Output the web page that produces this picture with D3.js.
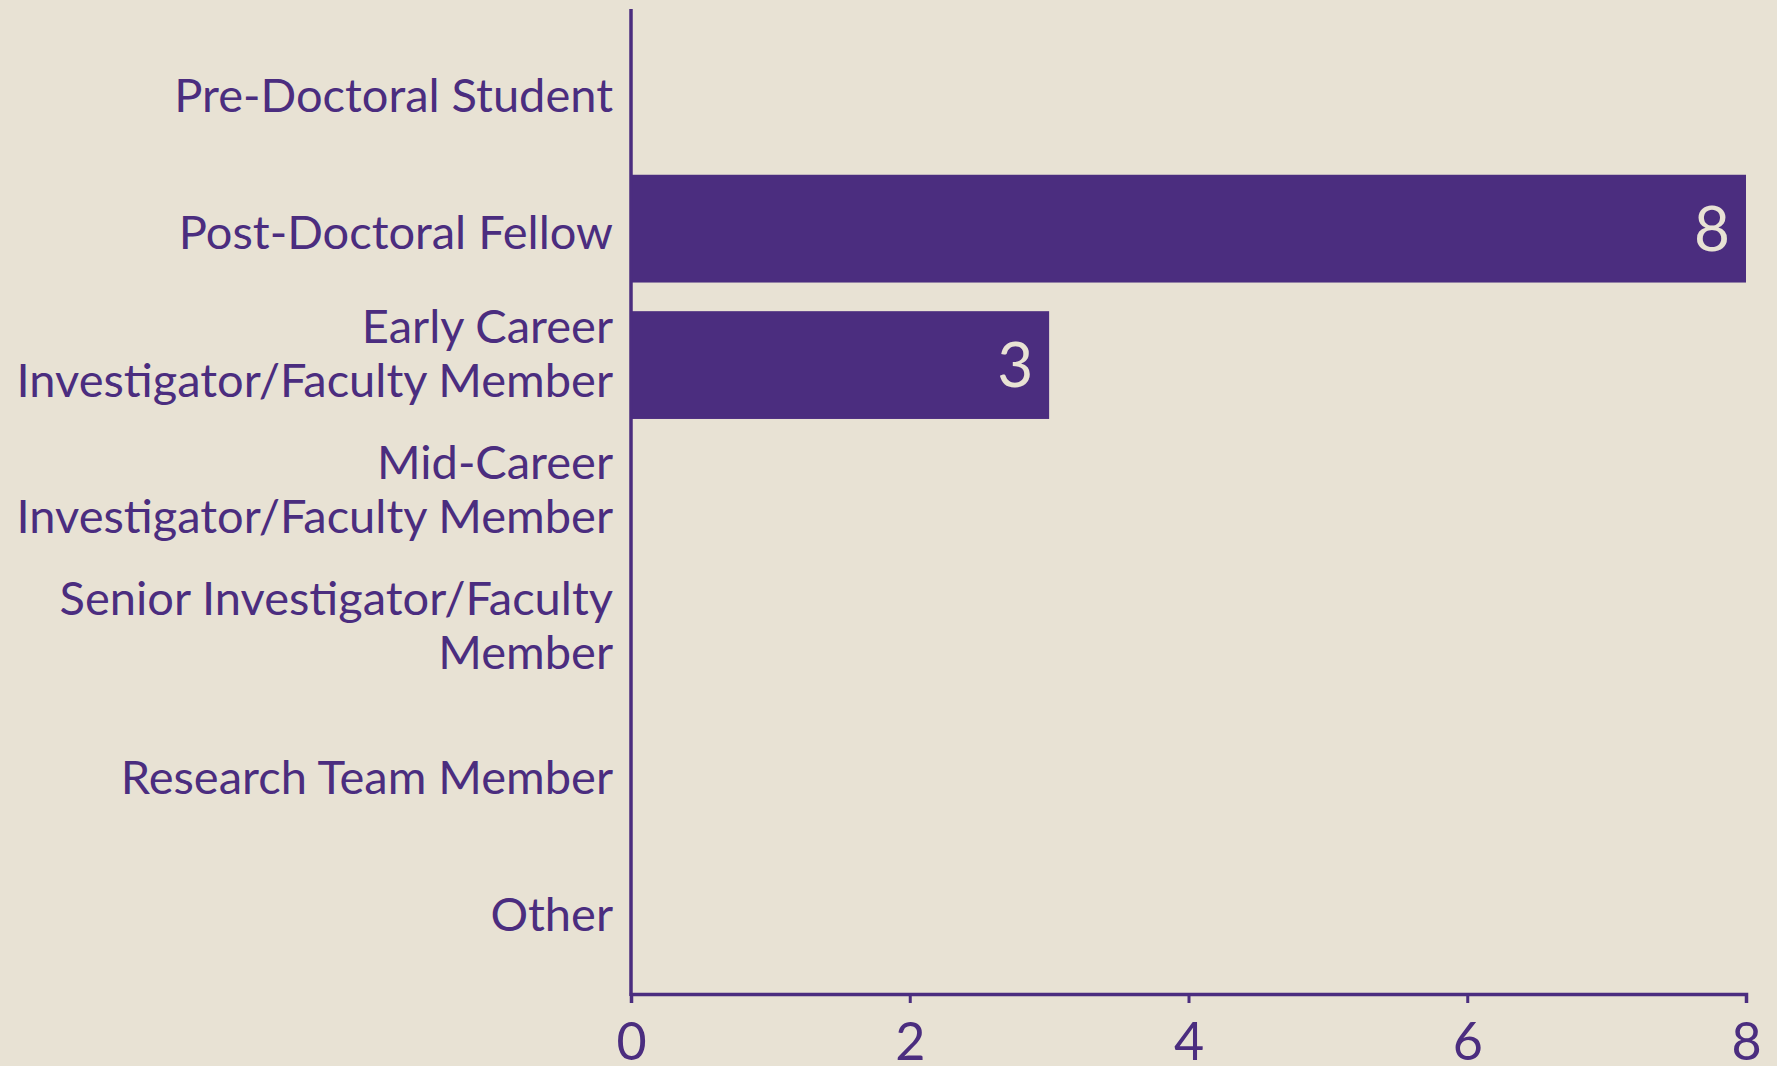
<html>
    <head>
        <title>career stage</title>
        <meta charset="UTF-8">
        <script src="https://d3js.org/d3.v7.min.js"></script>
        <style>
            body { margin: 0; background: #e8e2d4; }
        </style>
    </head>
    <body>
        <div id="chart"></div>
    </body>
    <script>
    // data
    var categories = [
        "Pre-Doctoral Student",
        "Post-Doctoral Fellow",
        "Early Career Investigator/Faculty Member",
        "Mid-Career Investigator/Faculty Member",
        "Senior Investigator/Faculty Member",
        "Research Team Member",
        "Other"
    ];
    var counts = [0, 8, 3, 0, 0, 0, 0];
    var xTicks = [0, 2, 4, 6, 8];

    var purple = "#4b2d7f",
        cream = "#e8e2d4";

    // set the dimensions and margins of the graph
    var W = 1777, H = 1066;
    var margin = {top: 9, right: 31, bottom: 72, left: 631},
        width = W - margin.left - margin.right,
        height = H - margin.top - margin.bottom;

    var svg = d3.select("#chart")
        .append("svg")
            .attr("width", W)
            .attr("height", H)
            .style("display", "block")
            .style("background", cream)
        .append("g")
            .attr("transform", "translate(" + margin.left + "," + margin.top + ")");

    var x = d3.scaleLinear()
        .domain([0, 8])
        .range([0, width]);

    var y = d3.scaleBand()
        .domain(categories)
        .range([0, height])
        .paddingInner(0.21)
        .paddingOuter(0.215);

    // bars
    svg.append("g")
        .selectAll("rect")
        .data(categories)
        .enter()
        .append("rect")
            .attr("x", x(0))
            .attr("y", function(d) { return y(d); })
            .attr("width", function(d, i) { return x(counts[i]) - x(0); })
            .attr("height", y.bandwidth())
            .style("fill", purple);

    // value labels inside the bar ends
    svg.append("g")
        .selectAll("text")
        .data(categories.filter(function(d, i) { return counts[i] > 0; }))
        .enter()
        .append("text")
            .attr("x", function(d) { return x(counts[categories.indexOf(d)]) - 16; })
            .attr("y", function(d) { return y(d) + y.bandwidth() / 2; })
            .attr("dy", "0.36em")
            .style("text-anchor", "end")
            .style("font-family", "Lato, sans-serif")
            .style("font-size", "62px")
            .style("fill", cream)
            .text(function(d) { return counts[categories.indexOf(d)]; });

    // X axis
    var xAxis = svg.append("g")
        .attr("transform", "translate(0," + height + ")")
        .call(d3.axisBottom(x).tickValues(xTicks).tickSize(9).tickSizeOuter(9));
    xAxis.select(".domain").attr("stroke", purple).attr("stroke-width", 3.5);
    xAxis.selectAll(".tick line").attr("stroke", purple).attr("stroke-width", 3);
    xAxis.selectAll(".tick text")
        .attr("y", 66)
        .attr("dy", 0)
        .style("font-family", "Lato, sans-serif")
        .style("font-size", "52px")
        .style("fill", purple);

    // Y axis: just the line, labels are wrapped by hand below
    var yAxis = svg.append("g")
        .call(d3.axisLeft(y).tickSize(0).tickFormat(""));
    yAxis.select(".domain").attr("stroke", purple).attr("stroke-width", 3.5)
        .attr("d", "M0,0V" + (height + 2));

    var maxLabel = 620;
    var labels = svg.append("g")
        .selectAll("text")
        .data(categories)
        .enter()
        .append("text")
            .attr("x", -18)
            .style("text-anchor", "end")
            .style("font-family", "Lato, sans-serif")
            .style("font-size", "47px")
            .style("fill", purple);

    // greedy word wrap
    labels.each(function(d) {
        var text = d3.select(this),
            words = d.split(" "),
            lines = [],
            line = [];
        var probe = text.append("tspan");
        words.forEach(function(w) {
            var trial = line.concat([w]);
            probe.text(trial.join(" "));
            if (line.length && probe.node().getComputedTextLength() > maxLabel) {
                lines.push(line.join(" "));
                line = [w];
            } else {
                line = trial;
            }
        });
        lines.push(line.join(" "));
        probe.remove();

        var mid = y(d) + y.bandwidth() / 2;
        var first = mid + 20 - (lines.length - 1) * 42.5;
        lines.forEach(function(l, k) {
            text.append("tspan")
                .attr("x", -18)
                .attr("y", first + k * 54)
                .text(l);
        });
    });
    </script>
</html>
